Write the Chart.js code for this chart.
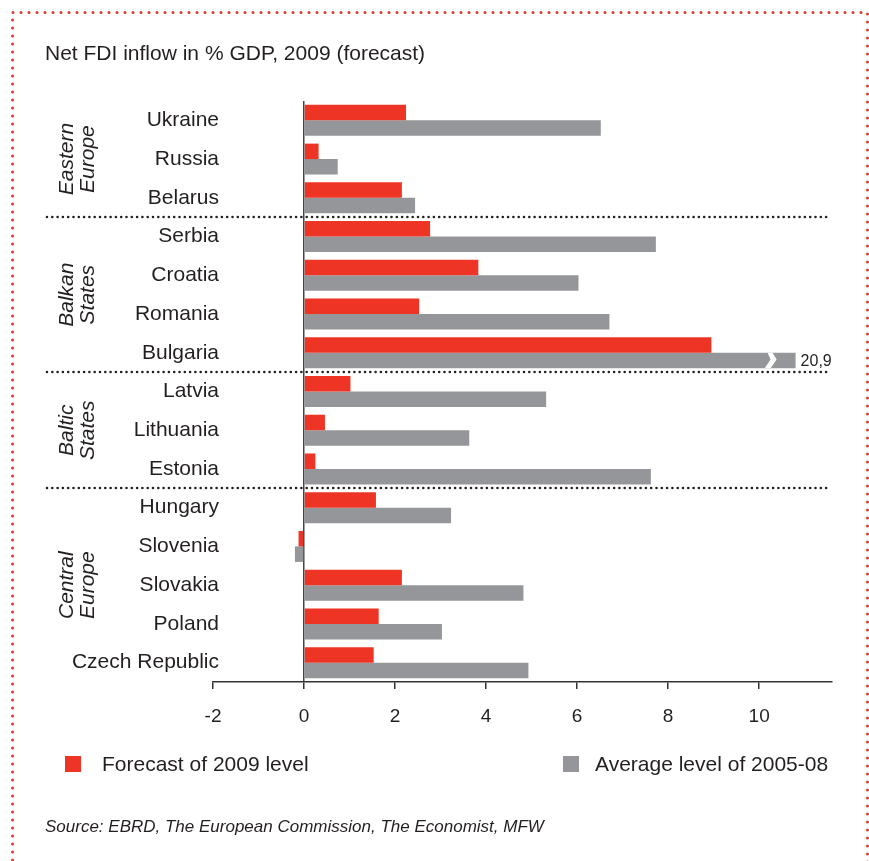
<!DOCTYPE html>
<html>
<head>
<meta charset="utf-8">
<script src="https://cdn.jsdelivr.net/npm/chart.js@4.4.1/dist/chart.umd.min.js"></script>
<style>
  body { margin: 0; background: #fff; font-family: 'Liberation Sans', Arial, sans-serif; color: #231f20; }
  #wrap { position: relative; width: 869px; height: 861px; overflow: hidden; }
  canvas { position: absolute; left: 0; top: 0; }
  .txt { position: absolute; white-space: nowrap; line-height: 1; }
  #title { left: 45px; top: 42px; font-size: 21px; }
  .sw { position: absolute; width: 16px; height: 16px; }
  .leg { top: 753px; font-size: 21px; }
  #source { left: 45px; top: 818px; font-size: 17px; font-style: italic; }
</style>
</head>
<body>
<div id="wrap">
  <canvas id="fdiChart" width="869" height="861"></canvas>
  <div class="txt" id="title">Net FDI inflow in % GDP, 2009 (forecast)</div>
  <div class="sw" style="left:65px; top:756px; background:#ee3424;"></div>
  <div class="txt leg" style="left:102px;">Forecast of 2009 level</div>
  <div class="sw" style="left:563px; top:756px; background:#959699;"></div>
  <div class="txt leg" style="left:595px;">Average level of 2005-08</div>
  <div class="txt" id="source">Source: EBRD, The European Commission, The Economist, MFW</div>
</div>
<script>
const countries = ['Ukraine', 'Russia', 'Belarus', 'Serbia', 'Croatia', 'Romania', 'Bulgaria',
  'Latvia', 'Lithuania', 'Estonia', 'Hungary', 'Slovenia', 'Slovakia', 'Poland', 'Czech Republic'];
const forecast2009 = [2.24, 0.32, 2.15, 2.77, 3.83, 2.53, 8.95, 1.02, 0.46, 0.25, 1.58, -0.12, 2.15, 1.64, 1.53];
const avg2005_08 = [6.52, 0.74, 2.44, 7.73, 6.03, 6.71, 20.9, 5.32, 3.63, 7.62, 3.23, -0.2, 4.82, 3.03, 4.93];
const groupNames = [['Eastern', 'Europe'], ['Balkan', 'States'], ['Baltic', 'States'], ['Central', 'Europe']];
const groupRanges = [[0, 2], [3, 6], [7, 9], [10, 14]];
const xTicks = [-2, 0, 2, 4, 6, 8, 10];
const brokenCap = 10.8; // bars longer than this are drawn cut, with the real value written next to them

const RED = '#ee3424';
const GREY = '#959699';
const INK = '#231f20';
const FONT = '"Liberation Sans", Arial, sans-serif';
const LABEL_SIZE = 21;

Chart.defaults.font.family = FONT;
Chart.defaults.color = INK;

// country names are right-aligned a few px inside the plot's left edge
const probe = document.createElement('canvas').getContext('2d');
probe.font = LABEL_SIZE + 'px ' + FONT;
const widestLabel = Math.max(...countries.map(c => probe.measureText(c).width));

const decorations = {
    id: 'decorations',
    beforeDraw(chart) {
        // red dotted frame
        const ctx = chart.ctx;
        ctx.save();
        ctx.strokeStyle = RED;
        ctx.lineWidth = 3;
        ctx.lineCap = 'round';
        ctx.setLineDash([0, 8]);
        ctx.beginPath();
        ctx.moveTo(12.5, 900);
        ctx.lineTo(12.5, 12.5);
        ctx.lineTo(867.5, 12.5);
        ctx.lineTo(867.5, 900);
        ctx.stroke();
        ctx.restore();
    },
    afterDatasetsDraw(chart) {
        const { ctx, scales: { x, y } } = chart;

        // dotted separators between the regions
        ctx.save();
        ctx.strokeStyle = INK;
        ctx.lineWidth = 2.6;
        ctx.lineCap = 'round';
        ctx.setLineDash([0, 5.3]);
        groupRanges.slice(1).forEach(([start]) => {
            const yy = Math.round((y.getPixelForValue(start - 1) + y.getPixelForValue(start)) / 2);
            ctx.beginPath();
            ctx.moveTo(47, yy);
            ctx.lineTo(830, yy);
            ctx.stroke();
        });
        ctx.restore();

        // region names, rotated
        ctx.save();
        ctx.font = 'italic 21px ' + FONT;
        ctx.fillStyle = INK;
        ctx.textAlign = 'center';
        ctx.textBaseline = 'middle';
        groupNames.forEach((lines, g) => {
            const [a, b] = groupRanges[g];
            const cy = (y.getPixelForValue(a) + y.getPixelForValue(b)) / 2;
            lines.forEach((t, k) => {
                ctx.save();
                ctx.translate(67.5 + k * 20.5, cy);
                ctx.rotate(-Math.PI / 2);
                ctx.fillText(t, 0, 0);
                ctx.restore();
            });
        });
        ctx.restore();

        // broken bar + real value
        const meta = chart.getDatasetMeta(1);
        avg2005_08.forEach((v, i) => {
            if (v <= brokenCap) return;
            const bar = meta.data[i];
            const { x: bxEnd, y: cy, height } = bar.getProps(['x', 'y', 'height'], true);
            const top = cy - height / 2, bottom = cy + height / 2;
            const bx = bxEnd - 26;
            ctx.save();
            ctx.fillStyle = '#fff';
            ctx.beginPath();
            ctx.moveTo(bx - 2, top);
            ctx.lineTo(bx + 3, top);
            ctx.lineTo(bx + 7, cy - 1);
            ctx.lineTo(bx + 1, bottom);
            ctx.lineTo(bx - 5, bottom);
            ctx.lineTo(bx + 1, cy - 1);
            ctx.closePath();
            ctx.fill();
            ctx.fillStyle = INK;
            ctx.font = '16px ' + FONT;
            ctx.textAlign = 'left';
            ctx.textBaseline = 'middle';
            ctx.fillText(String(v).replace('.', ','), bxEnd + 5, cy + 1);
            ctx.restore();
        });
    }
};

const ctx = document.getElementById('fdiChart').getContext('2d');
new Chart(ctx, {
    type: 'bar',
    data: {
        labels: countries,
        datasets: [{
            label: 'Forecast of 2009 level',
            data: forecast2009,
            backgroundColor: RED,
            borderWidth: 0,
            categoryPercentage: 0.8,
            barPercentage: 1.0
        }, {
            label: 'Average level of 2005-08',
            data: avg2005_08.map(v => Math.min(v, brokenCap)),
            backgroundColor: GREY,
            borderWidth: 0,
            categoryPercentage: 0.8,
            barPercentage: 1.0
        }]
    },
    options: {
        indexAxis: 'y',
        responsive: false,
        animation: false,
        layout: { padding: { left: 0, right: 37, top: 101, bottom: 139 } },
        plugins: {
            legend: { display: false },
            tooltip: { enabled: false }
        },
        scales: {
            x: {
                min: -2,
                max: 11.6,
                afterBuildTicks: s => { s.ticks = xTicks.map(v => ({ value: v })); },
                afterFit: s => { s.height = 40; },
                border: { display: true, color: '#333', width: 1.5 },
                grid: {
                    drawOnChartArea: true,
                    drawTicks: true,
                    tickLength: 7,
                    tickColor: '#333',
                    tickWidth: 1.5,
                    color: c => (c.tick && c.tick.value === 0 ? '#444' : 'rgba(0,0,0,0)'),
                    lineWidth: 1.5
                },
                ticks: { font: { size: 19 }, color: INK, padding: 16 }
            },
            y: {
                afterFit: s => { s.width = 213; },
                border: { display: false },
                grid: { display: false, drawTicks: false },
                ticks: {
                    font: { size: LABEL_SIZE },
                    color: INK,
                    autoSkip: false,
                    mirror: true,
                    crossAlign: 'far',
                    padding: 6 - widestLabel
                }
            }
        }
    },
    plugins: [decorations]
});
</script>
</body>
</html>
